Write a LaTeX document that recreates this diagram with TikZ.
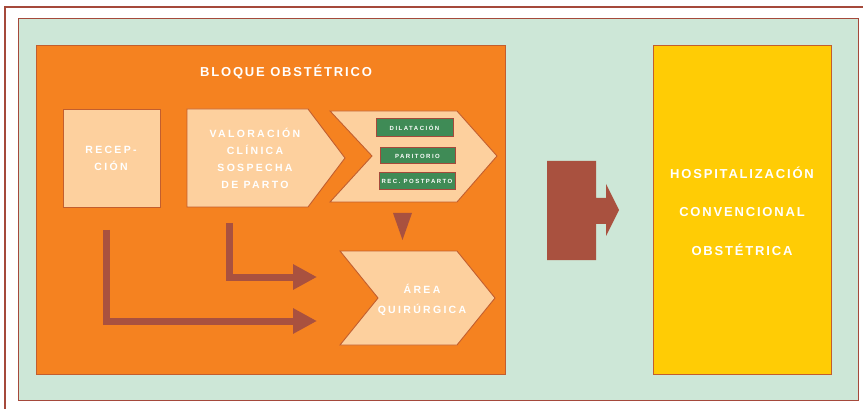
\documentclass[tikz,border=0pt]{standalone}
\usepackage{fontspec}
\setmainfont{Liberation Sans}
\newfontfamily\lsA[LetterSpace=14]{Liberation Sans}
\newfontfamily\lsB[LetterSpace=22]{Liberation Sans}
\newfontfamily\lsC[LetterSpace=25]{Liberation Sans}
\usetikzlibrary{arrows.meta}
\definecolor{frameR}{HTML}{A5493B}
\definecolor{mint}{HTML}{CDE7D7}
\definecolor{orng}{HTML}{F58220}
\definecolor{peach}{HTML}{FDD09E}
\definecolor{yell}{HTML}{FFCC05}
\definecolor{arrR}{HTML}{A9513F}
\definecolor{gbox}{HTML}{3F8B56}
\definecolor{bordO}{HTML}{C25E2E}
\tikzset{
  lightbox/.style={fill=peach,draw=bordO,line width=0.9pt},
  wtxt/.style={text=white,inner sep=0pt,align=center},
  minibox/.style={fill=gbox,draw=frameR,line width=1pt,inner sep=0pt,text=white,
    font=\lsC\bfseries\fontsize{6}{7}\selectfont},
  larrow/.style={draw=arrR,line width=7pt,line join=miter,
    -{Triangle[length=24pt,width=24pt]}}
}
\begin{document}
\begin{tikzpicture}[x=1pt,y=-1pt]
\useasboundingbox (0,0) rectangle (863,409);
% outer frame
\draw[frameR,line width=2.5pt] (5,420) -- (5,7) -- (875,7);
% green background
\draw[fill=mint,draw=frameR,line width=1pt] (18,19) rectangle (858,400);
% orange block
\draw[fill=orng,draw=bordO,line width=1pt] (36,46) rectangle (505,374);
% yellow block
\draw[fill=yell,draw=bordO,line width=1pt] (653,46) rectangle (831,374);
\node[wtxt,font=\lsA\bfseries\fontsize{13}{38.5}\selectfont] (hosp) at (742,211)
  {HOSPITALIZACIÓN\\CONVENCIONAL\\OBSTÉTRICA};
% title
\node[wtxt,font=\lsA\bfseries\fontsize{13}{15}\selectfont] (title) at (286,72) {BLOQUE OBSTÉTRICO};
% recepcion
\draw[lightbox] (63,109) rectangle (160,207);
\node[wtxt,font=\lsB\bfseries\fontsize{10.5}{17}\selectfont] (recep) at (111,158) {RECEP-\\CIÓN};
% valoracion pentagon
\draw[lightbox] (187,109) -- (308,109) -- (345,158) -- (308,207) -- (187,207) -- cycle;
\node[wtxt,font=\lsB\bfseries\fontsize{10.5}{17}\selectfont] (valor) at (255,158)
  {VALORACIÓN\\CLÍNICA\\SOSPECHA\\DE PARTO};
% chevron dilatacion
\draw[lightbox] (330,111) -- (457,111) -- (497,156) -- (457,202) -- (330,202) -- (372,156) -- cycle;
\node[minibox,minimum width=77pt,minimum height=18pt] (dil) at (414.5,128) {DILATACIÓN};
\node[minibox,minimum width=75pt,minimum height=16pt] (par) at (417.5,156) {PARITORIO};
\node[minibox,minimum width=76pt,minimum height=17pt] (rec) at (417,181.5) {REC. POSTPARTO};
% down triangle
\fill[arrR] (393,213) -- (412,213) -- (402.5,240) -- cycle;
% area quirurgica chevron
\draw[lightbox] (340,251) -- (457,251) -- (495,298) -- (457,345) -- (340,345) -- (378,298) -- cycle;
\node[wtxt,font=\lsB\bfseries\fontsize{10.5}{20}\selectfont] (area) at (422,300)
  {ÁREA\\QUIRÚRGICA};
% L arrows
\coordinate (s1) at (106,230);
\coordinate (e1) at (317,321);
\coordinate (s2) at (229,223);
\coordinate (e2) at (317,277);
\draw[larrow] (s1) |- (e1);
\draw[larrow] (s2) |- (e2);
% big arrow
\fill[arrR] (547,161) -- (596,161) -- (596,198) -- (606,198) -- (606,184) -- (619,210)
  -- (606,236) -- (606,224) -- (596,224) -- (596,260) -- (547,260) -- cycle;
\end{tikzpicture}
\end{document}
